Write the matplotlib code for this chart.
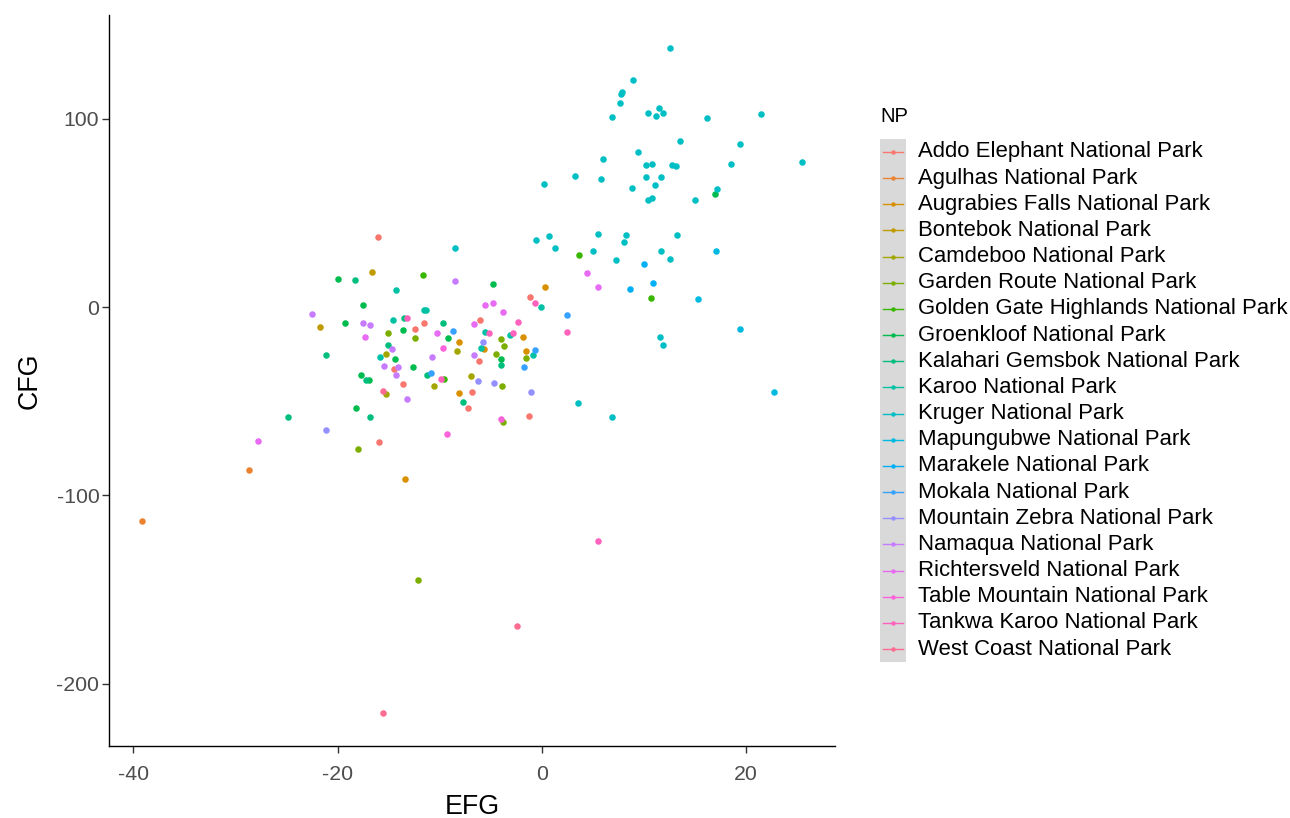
import matplotlib
matplotlib.use("Agg")
import matplotlib.pyplot as plt
from matplotlib.patches import Rectangle
from matplotlib.lines import Line2D

plt.rcParams['font.family'] = ['Liberation Sans', 'DejaVu Sans']

# ---- data: EFG (x) and CFG (y) per national park ----
park_names = [
    "Addo Elephant National Park", "Agulhas National Park",
    "Augrabies Falls National Park", "Bontebok National Park",
    "Camdeboo National Park", "Garden Route National Park",
    "Golden Gate Highlands National Park", "Groenkloof National Park",
    "Kalahari Gemsbok National Park", "Karoo National Park",
    "Kruger National Park", "Mapungubwe National Park",
    "Marakele National Park", "Mokala National Park",
    "Mountain Zebra National Park", "Namaqua National Park",
    "Richtersveld National Park", "Table Mountain National Park",
    "Tankwa Karoo National Park", "West Coast National Park",
]

park_colors = [
    "#F8766D", "#EA8331", "#D89000", "#C09B00", "#A3A500",
    "#7CAE00", "#39B600", "#00BB4E", "#00BF7D", "#00C1A3",
    "#00BFC4", "#00BAE0", "#00B0F6", "#35A2FF", "#9590FF",
    "#C77CFF", "#E76BF3", "#FA62DB", "#FF62BC", "#FF6C91",
]

addo_efg = [-1.18, -16.06, -12.37, -11.48, -6.02, -14.43, -6.11, -13.61, -6.80, -7.26, -1.21, -15.93]
addo_cfg = [5.4, 37.1, -11.5, -8.5, -6.7, -32.6, -28.4, -40.9, -45.1, -53.6, -57.8, -71.5]

agulhas_efg = [-28.69, -39.16]
agulhas_cfg = [-86.6, -113.4]

augrabies_efg = [0.32, -8.05, -1.80, -1.54, -5.66, -8.05, -13.35]
augrabies_cfg = [10.7, -18.7, -15.7, -23.1, -22.0, -45.6, -91.2]

bontebok_efg = [-16.61, -21.76]
bontebok_cfg = [18.6, -10.8]

camdeboo_efg = [-8.27, -15.28, -15.28, -6.94, -10.50]
camdeboo_cfg = [-23.1, -24.7, -46.3, -36.7, -42.1]

garden_route_efg = [-15.04, -12.39, -4.02, -3.66, -4.45, -1.57, -3.90, -3.76, -17.96, -12.07]
garden_route_cfg = [-13.9, -16.4, -16.9, -20.4, -24.7, -27.2, -42.1, -61.0, -75.2, -145.1]

golden_gate_efg = [3.66, 10.70, -11.61, -9.59]
golden_gate_cfg = [27.5, 4.8, 17.2, -38.4]

groenkloof_efg = [16.95, -19.99, -17.50, -19.30, -4.81, -13.61, -9.16, -14.40, -17.73, -16.90, -18.18, -4.02, -12.59]
groenkloof_cfg = [60.0, 14.9, 1.2, -8.5, 12.5, -12.2, -16.4, -27.7, -36.1, -38.6, -53.6, -27.7, -31.9]

kalahari_efg = [-18.28, -15.04, -13.47, -9.69, -21.10, -17.17, -16.85, -24.86, -4.02, -11.19, -7.68]
kalahari_cfg = [14.4, -19.9, -6.0, -8.5, -25.2, -38.6, -58.3, -58.3, -30.9, -36.1, -50.6]

karoo_efg = [-0.10, -14.26, -11.32, -11.55, -14.52, -5.59, -3.07, -15.83, -0.88, -5.92]
karoo_cfg = [0.0, 9.0, -1.3, -1.3, -6.7, -13.2, -14.8, -26.4, -25.4, -21.7]

kruger_efg = [12.56, 8.93, 7.92, 7.78, 7.68, 6.94, 10.47, 11.48, 11.85, 11.26,
              13.59, 9.49, 6.05, 10.24, 10.82, 12.79, 13.15, 3.24, 5.79, 10.24,
              11.71, 0.23, 8.90, 11.16, 10.43, 10.82, 16.19, 21.52, 19.43, 18.52,
              25.52, 17.17, 15.04, -0.56, 0.69, 1.34, 5.56, 8.24, 8.05, 13.25,
              5.00, 7.26, 11.71, 12.59, 11.58, 11.94, 3.56, 6.90, -8.47]
kruger_cfg = [137.5, 120.6, 114.1, 113.2, 108.6, 100.9, 103.2, 105.8, 103.2, 101.4,
              88.2, 82.2, 78.5, 75.5, 76.2, 75.7, 75.0, 69.5, 68.3, 69.0,
              69.0, 65.5, 63.5, 64.8, 57.1, 57.9, 100.2, 102.6, 86.4, 76.2,
              76.9, 63.0, 57.1, 35.4, 37.7, 31.2, 38.9, 38.4, 34.7, 38.4,
              29.9, 25.1, 29.9, 25.7, -15.7, -19.9, -51.1, -58.3, 31.2]

mapungubwe_efg = [17.08, 15.28, 19.43, 22.74]
mapungubwe_cfg = [29.9, 4.2, -11.5, -45.1]

marakele_efg = [10.04, 10.92, 8.70]
marakele_cfg = [22.7, 13.0, 9.5]

mokala_efg = [2.45, -8.70, -0.69, -1.77, -10.82]
mokala_cfg = [-4.2, -12.7, -22.6, -31.9, -34.9]

mountain_zebra_efg = [-5.79, -21.10, -6.25, -4.68, -1.01]
mountain_zebra_cfg = [-18.7, -65.0, -39.1, -40.4, -45.1]

namaqua_efg = [-22.54, -17.50, -16.85, -14.62, -8.47, -15.41, -14.10, -14.26, -6.58, -10.73, -13.18]
namaqua_cfg = [-3.7, -8.5, -9.7, -22.0, 13.7, -31.4, -31.9, -36.1, -25.4, -26.6, -48.6]

richtersveld_efg = [4.45, 5.56, -17.30, -5.59, -4.81, -3.80, -6.67, -10.27, -27.77]
richtersveld_cfg = [18.0, 10.7, -15.7, 1.2, 2.3, -2.5, -9.2, -13.9, -71.0]

table_mountain_efg = [-9.69, -3.93, -9.25]
table_mountain_cfg = [-21.7, -59.5, -67.3]

tankwa_efg = [-0.66, 2.45, -13.22, -5.20, -2.78, -2.36, -9.84, 5.50]
tankwa_cfg = [2.3, -13.4, -6.0, -13.9, -13.7, -7.9, -37.9, -124.0]

west_coast_efg = [-15.51, -2.45, -15.51]
west_coast_cfg = [-44.6, -169.4, -215.4]

park_efg = [addo_efg, agulhas_efg, augrabies_efg, bontebok_efg, camdeboo_efg,
            garden_route_efg, golden_gate_efg, groenkloof_efg, kalahari_efg,
            karoo_efg, kruger_efg, mapungubwe_efg, marakele_efg, mokala_efg,
            mountain_zebra_efg, namaqua_efg, richtersveld_efg,
            table_mountain_efg, tankwa_efg, west_coast_efg]
park_cfg = [addo_cfg, agulhas_cfg, augrabies_cfg, bontebok_cfg, camdeboo_cfg,
            garden_route_cfg, golden_gate_cfg, groenkloof_cfg, kalahari_cfg,
            karoo_cfg, kruger_cfg, mapungubwe_cfg, marakele_cfg, mokala_cfg,
            mountain_zebra_cfg, namaqua_cfg, richtersveld_cfg,
            table_mountain_cfg, tankwa_cfg, west_coast_cfg]

x_ticks = [-40, -20, 0, 20]
y_ticks = [-200, -100, 0, 100]

# ---- figure ----
W, H = 1290, 818
fig = plt.figure(figsize=(W / 100, H / 100), dpi=100)
fig.patch.set_facecolor("white")
ax = fig.add_axes([109 / W, 72 / H, 726 / W, 731 / H])

for xs, ys, col in zip(park_efg, park_cfg, park_colors):
    ax.scatter(xs, ys, s=22, color=col, linewidths=0, zorder=3)

all_x = [v for xs in park_efg for v in xs]
all_y = [v for ys in park_cfg for v in ys]
dx = (max(all_x) - min(all_x)) * 0.05
dy = (max(all_y) - min(all_y)) * 0.05
ax.set_xlim(min(all_x) - dx, max(all_x) + dx)
ax.set_ylim(min(all_y) - dy, max(all_y) + dy)

ax.set_xticks(x_ticks)
ax.set_yticks(y_ticks)
ax.set_xticklabels([str(t) for t in x_ticks])
ax.set_yticklabels([str(t) for t in y_ticks])
ax.tick_params(axis="both", length=5, width=1.0, color="#333333",
               labelsize=15.3, labelcolor="#4D4D4D")
ax.tick_params(axis="x", pad=9)
ax.tick_params(axis="y", pad=2)
for side in ("top", "right"):
    ax.spines[side].set_visible(False)
for side in ("left", "bottom"):
    ax.spines[side].set_color("black")
    ax.spines[side].set_linewidth(1.0)

ax.set_xlabel("EFG", fontsize=19.3, color="black", labelpad=7)
ax.set_ylabel("CFG", fontsize=19.3, color="black", labelpad=10)

# ---- legend drawn in figure pixel space ----
leg = fig.add_axes([0, 0, 1, 1], zorder=5)
leg.set_xlim(0, W)
leg.set_ylim(H, 0)
leg.axis("off")
leg.patch.set_alpha(0)

y0, step = 152.0, 26.16
n = len(park_names)
leg.text(880, 117, "NP", fontsize=14.5, ha="left", va="center", color="black")
leg.add_patch(Rectangle((880, y0 - step / 2), 26, step * n,
                        facecolor="#D9D9D9", edgecolor="none"))
for i, (name, col) in enumerate(zip(park_names, park_colors)):
    yy = y0 + i * step
    leg.add_line(Line2D([883, 903], [yy, yy], color=col, lw=1.0))
    leg.plot([893], [yy], marker="o", ms=3.2, color=col, mew=0)
    leg.text(918, yy, name, fontsize=15.9, ha="left", va="center", color="black")

fig.savefig("out.png", dpi=100, facecolor="white")
